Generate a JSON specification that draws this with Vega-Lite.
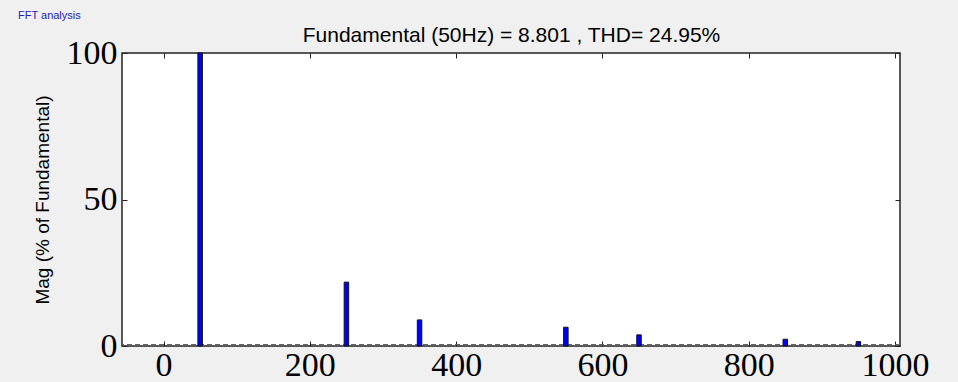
{
  "$schema": "https://vega.github.io/schema/vega-lite/v6.json",
  "width": 778,
  "height": 293,
  "autosize": {"type": "none"},
  "padding": {"left": 122, "top": 53, "right": 58, "bottom": 36},
  "background": "#f0f0f0",
  "title": {
    "text": "FFT analysis",
    "anchor": "start",
    "frame": "group",
    "font": "Liberation Sans",
    "fontSize": 11,
    "fontWeight": "normal",
    "color": "#2222bb",
    "dx": -104,
    "offset": 4
  },
  "config": {
    "view": {"fill": "white", "stroke": "#222222", "strokeWidth": 1.5},
    "axis": {
      "grid": false,
      "domain": false,
      "tickColor": "#222222",
      "tickWidth": 1,
      "tickSize": -5,
      "labelFont": "Liberation Serif",
      "labelFontSize": 34,
      "labelColor": "black",
      "labelFlush": false,
      "labelOverlap": false,
      "labelBound": false,
      "format": "d",
      "titleFont": "Liberation Sans",
      "titleFontSize": 19,
      "titleFontWeight": "normal",
      "titleColor": "black"
    }
  },
  "data": {
    "values": [
      {"freq": 50, "mag": 100},
      {"freq": 250, "mag": 21.8},
      {"freq": 350, "mag": 8.9},
      {"freq": 550, "mag": 6.4},
      {"freq": 650, "mag": 3.8},
      {"freq": 850, "mag": 2.3},
      {"freq": 950, "mag": 1.5}
    ]
  },
  "layer": [
    {
      "mark": {"type": "rule", "strokeDash": [5, 3], "color": "#666666", "strokeWidth": 1, "yOffset": -1.5},
      "encoding": {"y": {"datum": 0, "type": "quantitative", "axis": null}}
    },
    {
      "mark": {"type": "bar", "size": 4.5, "fill": "#0000ff", "stroke": "#111111", "strokeWidth": 1},
      "encoding": {
        "x": {
          "field": "freq",
          "type": "quantitative",
          "scale": {"domain": [-50, 1000], "nice": false, "zero": false},
          "axis": {"orient": "bottom", "values": [0, 200, 400, 600, 800, 1000], "title": null, "labelPadding": 7}
        },
        "y": {
          "field": "mag",
          "type": "quantitative",
          "scale": {"domain": [0, 100], "nice": false},
          "axis": {"orient": "left", "values": [0, 50, 100], "title": "Mag (% of Fundamental)", "labelPadding": 10, "labelBaseline": "middle", "titlePadding": 14}
        }
      }
    },
    {
      "mark": {"type": "point", "opacity": 0},
      "encoding": {
        "x": {
          "field": "freq",
          "type": "quantitative",
          "axis": {"orient": "top", "values": [0, 200, 400, 600, 800, 1000], "labels": false, "title": "Fundamental (50Hz) = 8.801 , THD= 24.95%", "titleFontSize": 21, "titlePadding": 7}
        },
        "y": {
          "field": "mag",
          "type": "quantitative",
          "axis": {"orient": "right", "values": [0, 50, 100], "labels": false, "title": null}
        }
      }
    }
  ],
  "resolve": {"axis": {"x": "independent", "y": "independent"}}
}
